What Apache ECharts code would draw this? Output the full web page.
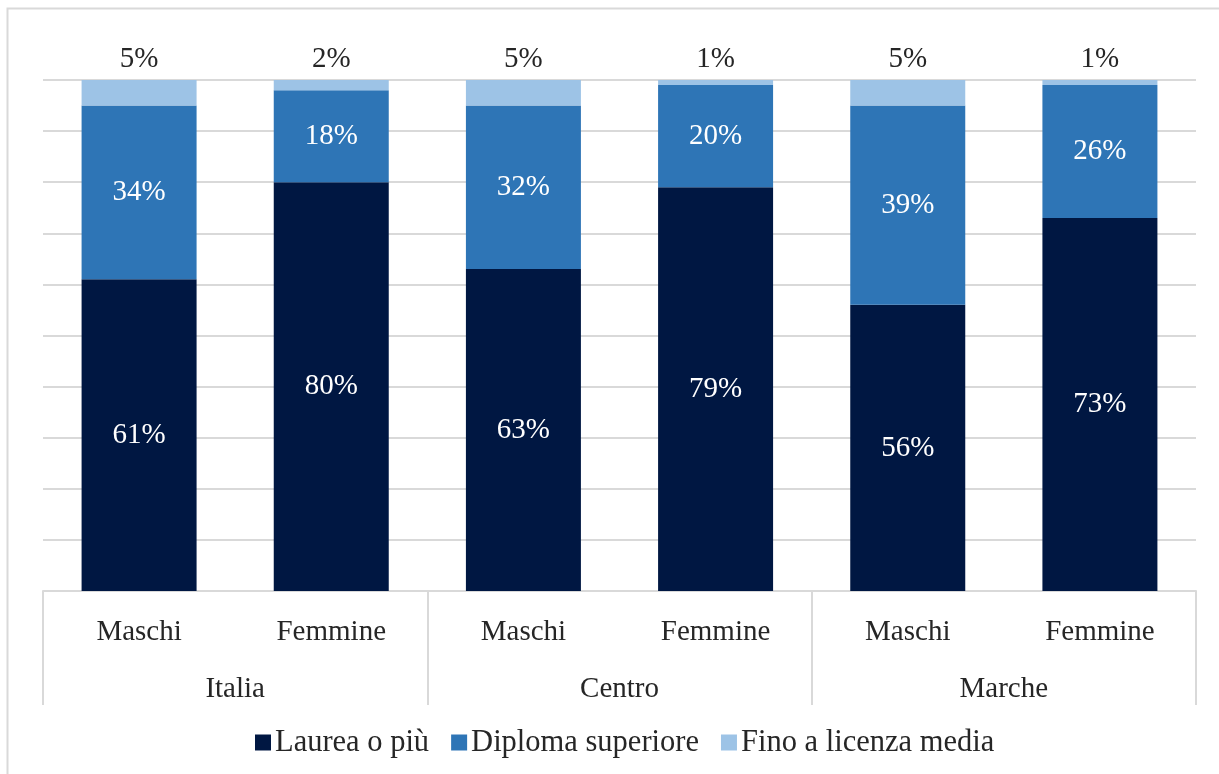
<!DOCTYPE html>
<html>
<head>
<meta charset="utf-8">
<script src="https://cdn.jsdelivr.net/npm/echarts@6/dist/echarts.min.js"></script>
<style>
html, body { margin: 0; padding: 0; background: #fff; }
#main { width: 1219px; height: 774px; }
</style>
</head>
<body>
<div id="main"></div>
<script>
// sesso (primo livello) e area (secondo livello)
var categorie = ['Maschi', 'Femmine', 'Maschi', 'Femmine', 'Maschi', 'Femmine'];
var aree = ['Italia', 'Centro', 'Marche'];
var serie_nomi = ['Laurea o più', 'Diploma superiore', 'Fino a licenza media'];
var laurea = [61, 80, 63, 79, 56, 73];
var diploma = [34, 18, 32, 20, 39, 26];
var licenza = [5, 2, 5, 1, 5, 1];
var y_ticks = [0, 10, 20, 30, 40, 50, 60, 70, 80, 90, 100];

var FONT = 'Liberation Serif';
var FS = 29;
var TXT = '#262626';
var GRIGIO = '#d9d9d9';
var colori = ['#001742', '#2e75b6', '#9dc3e6'];

var chart = echarts.init(document.getElementById('main'));

// etichetta dentro la barra
var label_dentro = {
    show: true,
    position: 'inside',
    color: '#fff',
    fontFamily: FONT,
    fontSize: FS,
    formatter: '{c}%'
};

var option = {
    animation: false,
    backgroundColor: '#fff',
    textStyle: { fontFamily: FONT },
    graphic: [{
        type: 'rect',
        shape: { x: 7.5, y: 8.5, width: 1230, height: 790 },
        style: { fill: 'none', stroke: GRIGIO, lineWidth: 2 },
        silent: true
    }],
    grid: { left: 43, right: 23, top: 80, bottom: 183 },
    legend: {
        bottom: 11,
        left: 250,
        icon: 'rect',
        itemWidth: 16,
        itemHeight: 16,
        itemGap: 22,
        textStyle: { fontFamily: FONT, fontSize: 30.5, color: TXT, padding: [0, 0, 0, -1] },
        data: serie_nomi
    },
    xAxis: [{
        type: 'category',
        data: categorie,
        axisLine: { lineStyle: { color: GRIGIO, width: 2 } },
        axisTick: { show: false },
        axisLabel: { fontFamily: FONT, fontSize: FS, color: TXT, margin: 27 }
    }, {
        type: 'category',
        data: aree,
        position: 'bottom',
        axisLine: { show: false },
        axisTick: { show: true, length: 114, interval: 0, lineStyle: { color: GRIGIO, width: 2 } },
        axisLabel: { fontFamily: FONT, fontSize: FS, color: TXT, margin: 84 }
    }],
    yAxis: {
        type: 'value',
        min: y_ticks[0],
        max: y_ticks[y_ticks.length - 1],
        interval: 10,
        axisLine: { show: false },
        axisTick: { show: false },
        axisLabel: { show: false },
        splitLine: { lineStyle: { color: GRIGIO, width: 2 } }
    },
    series: [{
        name: serie_nomi[0],
        type: 'bar',
        stack: 'tot',
        barWidth: 115,
        itemStyle: { color: colori[0] },
        label: label_dentro,
        data: laurea
    }, {
        name: serie_nomi[1],
        type: 'bar',
        stack: 'tot',
        barWidth: 115,
        itemStyle: { color: colori[1] },
        label: label_dentro,
        data: diploma
    }, {
        name: serie_nomi[2],
        type: 'bar',
        stack: 'tot',
        barWidth: 115,
        itemStyle: { color: colori[2] },
        label: {
            show: true,
            position: 'top',
            distance: 6,
            color: TXT,
            fontFamily: FONT,
            fontSize: FS,
            formatter: '{c}%'
        },
        data: licenza
    }]
};

chart.setOption(option);
</script>
</body>
</html>
